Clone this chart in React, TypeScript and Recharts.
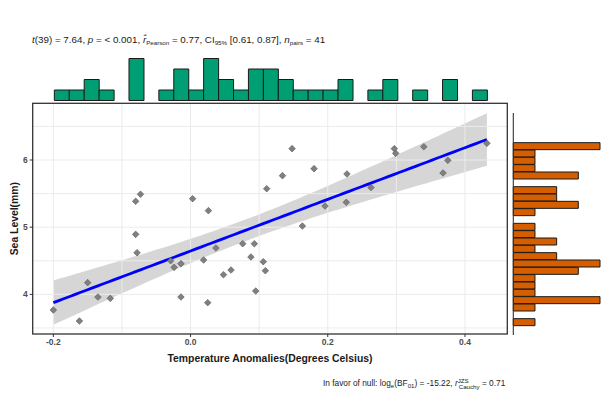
import { ComposedChart, BarChart, Bar, Scatter, Area, Line, XAxis, YAxis, ReferenceLine } from 'recharts';

// temperature anomaly (°C) and sea level (mm), one pair per year
const tempAnomaly = [
  -0.2, -0.162, -0.15, -0.135, -0.117, -0.08, -0.073, -0.08, -0.078, -0.029,
  -0.024, -0.014, -0.014, 0.003, 0.026, 0.019, 0.037, 0.025, 0.048, 0.059,
  0.076, 0.088, 0.093, 0.095, 0.106, 0.109, 0.111, 0.134, 0.148, 0.163,
  0.18, 0.196, 0.227, 0.228, 0.263, 0.297, 0.299, 0.34, 0.368, 0.375, 0.432,
];
const seaLevel = [
  3.767, 3.603, 4.174, 3.96, 3.941, 5.385, 5.49, 4.893, 4.62, 4.501,
  4.402, 4.457, 3.96, 5.424, 5.246, 4.511, 4.69, 3.876, 4.293, 4.362,
  4.754, 4.556, 4.754, 4.05, 4.486, 4.352, 5.573, 5.767, 6.169, 5.017,
  5.871, 5.315, 5.37, 5.792, 5.59, 6.169, 6.099, 6.198, 5.807, 5.995, 6.248,
];

// marginal histogram counts (left to right, top to bottom)
const tempCounts = [1, 1, 2, 1, 0, 4, 0, 1, 3, 1, 4, 2, 1, 3, 3, 2, 1, 1, 1, 2, 0, 1, 2, 0, 1, 0, 2, 0, 1];
const seaCounts = [4, 1, 1, 1, 3, 0, 2, 2, 3, 1, 0, 1, 1, 2, 1, 2, 4, 3, 1, 1, 1, 4, 1, 0, 1];

const xTicks = [-0.2, 0, 0.2, 0.4];
const yTicks = [4, 5, 6];
const xGrid = [-0.2, -0.1, 0, 0.1, 0.2, 0.3, 0.4];
const yGrid = [3.5, 4, 4.5, 5, 5.5, 6, 6.5];

const FONT = '"Liberation Sans", Arial, sans-serif';

const points = tempAnomaly.map((x, i) => ({ x, y: seaLevel[i] }));

// lm fit with 95% confidence band, like geom_smooth(method = "lm")
function smooth() {
  const n = points.length;
  const mx = tempAnomaly.reduce((a, b) => a + b, 0) / n;
  const my = seaLevel.reduce((a, b) => a + b, 0) / n;
  let sxx = 0, sxy = 0;
  points.forEach((p) => {
    sxx += (p.x - mx) ** 2;
    sxy += (p.x - mx) * (p.y - my);
  });
  const b = sxy / sxx;
  const a = my - b * mx;
  let rss = 0;
  points.forEach((p) => { rss += (p.y - a - b * p.x) ** 2; });
  const s = Math.sqrt(rss / (n - 2));
  const tcrit = 2.0227;
  const lo = Math.min(...tempAnomaly);
  const hi = Math.max(...tempAnomaly);
  const out = [];
  for (let i = 0; i < 80; i++) {
    const x = lo + ((hi - lo) * i) / 79;
    const fit = a + b * x;
    const se = s * Math.sqrt(1 / n + (x - mx) ** 2 / sxx);
    out.push({ x, fit, band: [fit - tcrit * se, fit + tcrit * se] });
  }
  return out;
}

const band = smooth();
const topData = tempCounts.map((count, bin) => ({ bin, count }));
const rightData = seaCounts.map((count, bin) => ({ bin, count }));

const Diamond = (props: any) => {
  const { cx, cy } = props;
  const r = 3.3;
  return (
    <polygon
      points={`${cx},${cy - r} ${cx + r},${cy} ${cx},${cy + r} ${cx - r},${cy}`}
      fill="#808080"
      stroke="#555"
      strokeWidth={0.6}
    />
  );
};

const layer: React.CSSProperties = { position: 'absolute', left: 0, top: 0 };
const sub = { fontSize: 6.2, fontStyle: 'normal' as const };

export default function App() {
  return (
    <div style={{ position: 'absolute', left: 0, top: 0, width: 611, height: 393, background: '#fff', fontFamily: FONT }}>
      <div style={layer}>
        <ComposedChart width={611} height={393} data={band} margin={{ top: 103.3, right: 103.7, bottom: 29, left: 0 }}>
          <XAxis
            type="number"
            dataKey="x"
            domain={[-0.2301, 0.4617]}
            ticks={xTicks}
            allowDataOverflow
            tickFormatter={(v: number) => v.toFixed(1)}
            axisLine={false}
            tickLine={{ stroke: '#333' }}
            tickSize={3}
            tickMargin={2}
            height={30}
            tick={{ fontSize: 8.5, fontWeight: 'bold', fill: '#4d4d4d', fontFamily: FONT }}
            label={{ value: 'Temperature Anomalies(Degrees Celsius)', position: 'insideBottom', offset: 2, fontSize: 10.4, fontWeight: 'bold', fill: '#1a1a1a', fontFamily: FONT }}
          />
          <YAxis
            type="number"
            dataKey="y"
            domain={[3.41, 6.844]}
            ticks={yTicks}
            allowDataOverflow
            axisLine={false}
            tickLine={{ stroke: '#333' }}
            tickSize={3}
            tickMargin={2}
            width={32.7}
            tick={{ fontSize: 8.5, fontWeight: 'bold', fill: '#4d4d4d', fontFamily: FONT }}
            label={{ value: 'Sea Level(mm)', angle: -90, position: 'insideLeft', offset: 14.5, style: { textAnchor: 'middle' }, fontSize: 10.4, fontWeight: 'bold', fill: '#1a1a1a', fontFamily: FONT }}
          />
          {xGrid.map((v) => (
            <ReferenceLine key={`gx${v}`} x={v} stroke="#ebebeb" strokeWidth={1} />
          ))}
          {yGrid.map((v) => (
            <ReferenceLine key={`gy${v}`} y={v} stroke="#ebebeb" strokeWidth={1} />
          ))}
          <Scatter data={points} dataKey="y" shape={Diamond} isAnimationActive={false} />
          <Area dataKey="band" stroke="none" fill="#999999" fillOpacity={0.4} isAnimationActive={false} />
          <Line dataKey="fit" stroke="#0000ff" strokeWidth={2.8} dot={false} isAnimationActive={false} />
        </ComposedChart>
      </div>

      <div style={layer}>
        <BarChart width={611} height={393} data={topData} margin={{ top: 58.5, right: 123.67, bottom: 292.5, left: 54.33 }} barCategoryGap={0}>
          <XAxis dataKey="bin" hide />
          <YAxis domain={[0, 4]} hide />
          <Bar dataKey="count" fill="#009E73" stroke="#1a1a1a" strokeWidth={1} isAnimationActive={false} />
        </BarChart>
      </div>

      <div style={layer}>
        <BarChart layout="vertical" width={611} height={393} data={rightData} margin={{ top: 142.67, right: 11, bottom: 67, left: 513.3 }} barCategoryGap={0}>
          <XAxis type="number" domain={[0, 4]} hide />
          <YAxis type="category" dataKey="bin" hide />
          <Bar dataKey="count" fill="#D55E00" stroke="#1a1a1a" strokeWidth={1} isAnimationActive={false} />
        </BarChart>
      </div>

      <svg width={611} height={393} style={{ ...layer, pointerEvents: 'none' }} fontFamily={FONT}>
        <rect x={32.7} y={103.3} width={474.6} height={230.7} fill="none" stroke="#333" strokeWidth={1.3} />
        <line x1={513.3} x2={513.3} y1={113} y2={335} stroke="#333" strokeWidth={1.1} />
        <text x={32} y={43} fontSize={9.8} fill="#1a1a1a" style={{ whiteSpace: 'pre' }}>
          <tspan fontStyle="italic">t</tspan>
          <tspan>{'(39) = 7.64, '}</tspan>
          <tspan fontStyle="italic">p</tspan>
          <tspan>{' = < 0.001, '}</tspan>
          <tspan fontStyle="italic">{'r\u0302'}</tspan>
          <tspan {...sub} dy={2}>Pearson</tspan>
          <tspan dy={-2}>{' = 0.77, CI'}</tspan>
          <tspan {...sub} dy={2}>95%</tspan>
          <tspan dy={-2}>{' [0.61, 0.87], '}</tspan>
          <tspan fontStyle="italic">n</tspan>
          <tspan {...sub} dy={2}>pairs</tspan>
          <tspan dy={-2}>{' = 41'}</tspan>
        </text>
        <text x={323} y={386} fontSize={8.3} fill="#1a1a1a" style={{ whiteSpace: 'pre' }}>
          <tspan>{'In favor of null: log'}</tspan>
          <tspan {...sub} dy={2}>e</tspan>
          <tspan dy={-2}>{'(BF'}</tspan>
          <tspan {...sub} dy={2}>01</tspan>
          <tspan dy={-2}>{') = -15.22, '}</tspan>
          <tspan fontStyle="italic">r</tspan>
          <tspan {...sub} dy={-3.5}>JZS</tspan>
          <tspan {...sub} dx={-10} dy={6}>Cauchy</tspan>
          <tspan dy={-2.5}>{' = 0.71'}</tspan>
        </text>
      </svg>
    </div>
  );
}
